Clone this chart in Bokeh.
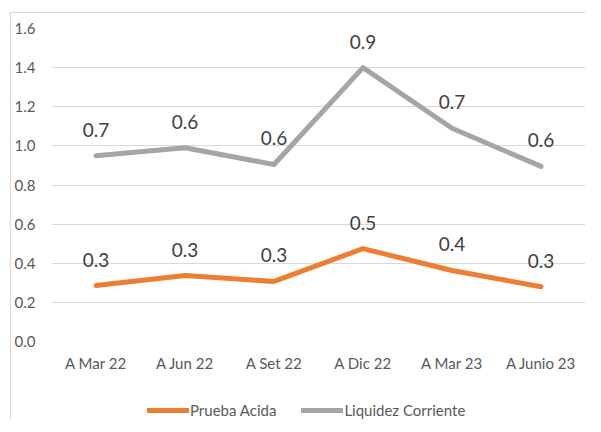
from bokeh.plotting import figure
from bokeh.layouts import column
from bokeh.models import ColumnDataSource, Legend, LegendItem, FactorRange, SingleIntervalTicker, CustomJSTickFormatter, Range1d
from bokeh.core.properties import value
from bokeh.embed import file_html
from bokeh.resources import INLINE

categories = ["A Mar 22", "A Jun 22", "A Set 22", "A Dic 22", "A Mar 23", "A Junio 23"]
prueba_acida = [0.286, 0.337, 0.307, 0.475, 0.363, 0.280]
prueba_acida_labels = ["0.3", "0.3", "0.3", "0.5", "0.4", "0.3"]
liquidez_corriente = [0.950, 0.990, 0.905, 1.400, 1.090, 0.895]
liquidez_corriente_labels = ["0.7", "0.6", "0.6", "0.9", "0.7", "0.6"]
series_names = ["Prueba Acida", "Liquidez Corriente"]

FONT = "Lato"
ORANGE = "#ED7D31"
GRAY = "#A5A5A5"

src_pa = ColumnDataSource(dict(x=categories, y=prueba_acida, lbl=prueba_acida_labels))
src_lc = ColumnDataSource(dict(x=categories, y=liquidez_corriente, lbl=liquidez_corriente_labels))

p = figure(x_range=FactorRange(*categories, range_padding=0), y_range=(0, 1.6),
           width=574, height=368, output_backend="svg", toolbar_location=None,
           min_border_left=40, min_border_right=0, min_border_top=15, min_border_bottom=40)
p.outline_line_color = None
p.background_fill_color = "white"
p.border_fill_color = "white"

line_style = dict(line_width=5, line_join="round", line_cap="round")
p.line("x", "y", source=src_pa, line_color=ORANGE, **line_style)
p.line("x", "y", source=src_lc, line_color=GRAY, **line_style)

for src in (src_pa, src_lc):
    p.text("x", "y", text="lbl", source=src, text_align="center", text_baseline="middle",
           y_offset=-26, text_font=value(FONT), text_font_size="19px", text_color="#404040")

p.yaxis.ticker = SingleIntervalTicker(interval=0.2)
p.yaxis.formatter = CustomJSTickFormatter(code="return tick.toFixed(1);")
for ax in (p.xaxis[0], p.yaxis[0]):
    ax.axis_line_color = None
    ax.major_tick_line_color = None
    ax.minor_tick_line_color = None
    ax.major_tick_out = 0
    ax.major_tick_in = 0
    ax.minor_tick_out = 0
    ax.minor_tick_in = 0
    ax.major_label_text_font = FONT
    ax.major_label_text_font_size = "15px"
    ax.major_label_text_color = "#595959"
p.yaxis.major_label_standoff = 16
p.xaxis.major_label_standoff = 12

p.xgrid.grid_line_color = None
p.ygrid.grid_line_color = "#D9D9D9"
p.ygrid.grid_line_width = 1

# legend strip below the chart (series drawn out of view, only used as legend proxies)
pl = figure(width=574, height=39, output_backend="svg", toolbar_location=None,
            x_axis_type=None, y_axis_type=None,
            x_range=FactorRange(*categories, range_padding=0), y_range=Range1d(2, 3),
            min_border_left=0, min_border_right=0, min_border_top=0, min_border_bottom=0)
pl.grid.grid_line_color = None
pl.outline_line_color = None
pl.background_fill_color = "white"
pl.border_fill_color = "white"
l_pa = pl.line("x", "y", source=src_pa, line_color=ORANGE, **line_style)
l_lc = pl.line("x", "y", source=src_lc, line_color=GRAY, **line_style)
legend = Legend(items=[LegendItem(label=series_names[0], renderers=[l_pa]),
                       LegendItem(label=series_names[1], renderers=[l_lc])],
                orientation="horizontal", location=(96, 0),
                glyph_width=42, glyph_height=20, label_standoff=1, spacing=25,
                padding=0, margin=0, border_line_color=None, background_fill_alpha=0,
                label_text_font=FONT, label_text_font_size="15px", label_text_color="#595959")
pl.add_layout(legend, "center")

layout = column(p, pl, spacing=0, margin=(12, 0, 0, 10),
                styles={"border-left": "1px solid #D9D9D9", "border-top": "1px solid #D9D9D9"})

open("out.html", "w").write(file_html(layout, INLINE))
